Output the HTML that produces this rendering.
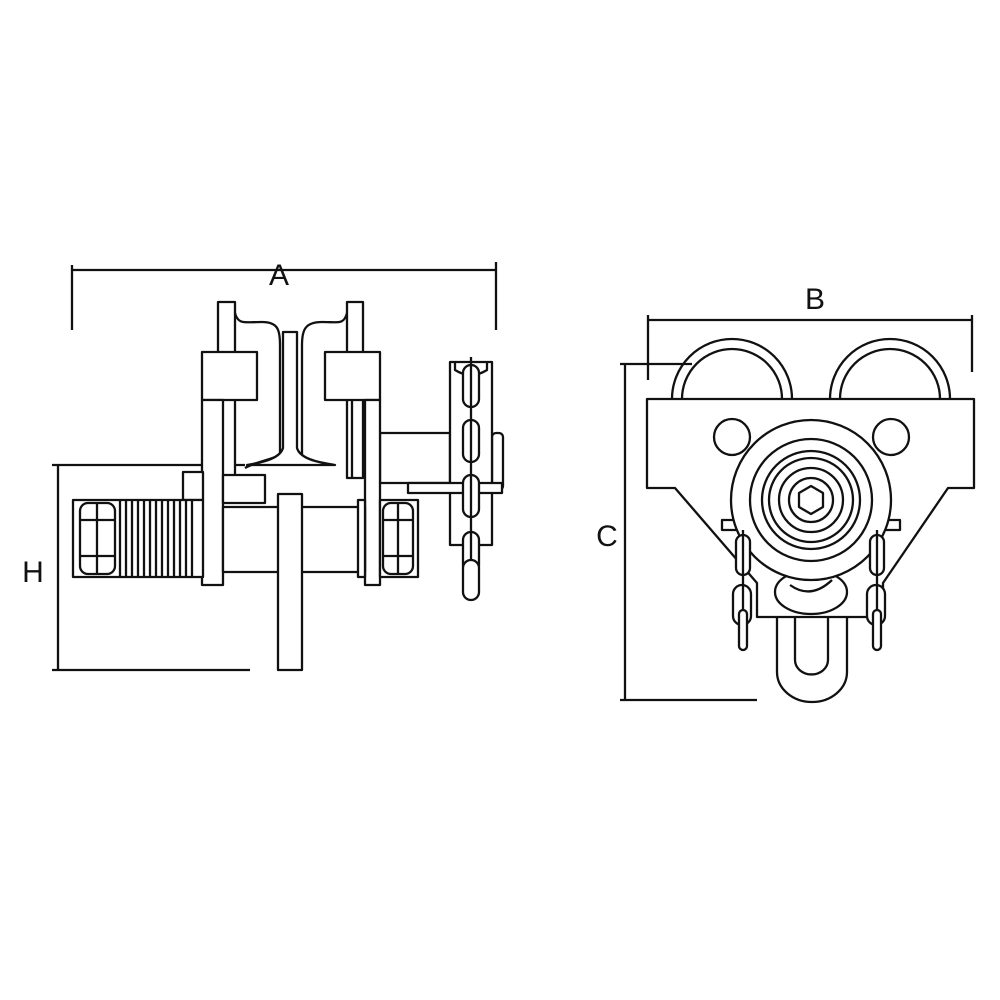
<!DOCTYPE html>
<html><head><meta charset="utf-8"><style>
html,body{margin:0;padding:0;background:#fff;}
svg{display:block}
text{font-family:"Liberation Sans",sans-serif;fill:#111}
</style></head><body>
<svg width="1000" height="1000" viewBox="0 0 1000 1000" xmlns="http://www.w3.org/2000/svg">
<g fill="none" stroke="#111" stroke-width="2.3" stroke-linejoin="round">
<line x1="72" y1="270" x2="496" y2="270"/>
<line x1="72" y1="265" x2="72" y2="330"/>
<line x1="496" y1="262" x2="496" y2="330"/>
<line x1="52" y1="465" x2="245" y2="465"/>
<line x1="52" y1="670" x2="250" y2="670"/>
<line x1="58" y1="465" x2="58" y2="670"/>
<rect x="218" y="302" width="17" height="176" fill="#fff"/>
<rect x="347" y="302" width="16" height="176" fill="#fff"/>
<path d="M235 313 C238 325 245 322 262 322 C278 322 280 330 280 345 L280 455 C270 460 255 462 245 468"/>
<path d="M347 313 C344 325 338 322 322 322 C305 322 302 330 302 345 L302 455"/>
<path d="M283 332 L297 332 L297 448 C300 458 315 462 335 465 L247 465 C265 462 280 458 283 448 Z" fill="#fff"/>
<rect x="202" y="352" width="55" height="48" fill="#fff"/>
<rect x="325" y="352" width="55" height="48" fill="#fff"/>
<line x1="215" y1="400" x2="215" y2="478"/>
<line x1="352" y1="400" x2="352" y2="478"/>
<rect x="380" y="433" width="70" height="50" fill="#fff"/>
<rect x="492" y="433" width="11" height="57" rx="4" fill="#fff"/>
<rect x="450" y="362" width="42" height="183" fill="#fff"/>
<path d="M455 362 L455 370 Q471 380 487 370 L487 362"/>
<rect x="408" y="483" width="94" height="10" fill="#fff"/>
<rect x="202" y="400" width="21" height="185" fill="#fff"/>
<rect x="365" y="400" width="15" height="185" fill="#fff"/>
<rect x="183" y="472" width="20" height="28" fill="#fff"/>
<rect x="223" y="475" width="42" height="28" fill="#fff"/>
<rect x="223" y="507" width="142" height="65" fill="#fff"/>
<rect x="358" y="500" width="7" height="77" fill="#fff"/>
<rect x="73" y="500" width="130" height="77" fill="#fff"/>
<rect x="80" y="503" width="35" height="71" rx="8"/>
<line x1="80" y1="520" x2="115" y2="520"/><line x1="80" y1="556" x2="115" y2="556"/>
<line x1="97" y1="503" x2="97" y2="574"/>
<g>
<line x1="120" y1="500" x2="120" y2="577"/><line x1="126" y1="500" x2="126" y2="577"/>
<line x1="132" y1="500" x2="132" y2="577"/><line x1="138" y1="500" x2="138" y2="577"/>
<line x1="144" y1="500" x2="144" y2="577"/><line x1="150" y1="500" x2="150" y2="577"/>
<line x1="156" y1="500" x2="156" y2="577"/><line x1="162" y1="500" x2="162" y2="577"/>
<line x1="168" y1="500" x2="168" y2="577"/><line x1="174" y1="500" x2="174" y2="577"/>
<line x1="180" y1="500" x2="180" y2="577"/><line x1="186" y1="500" x2="186" y2="577"/>
<line x1="192" y1="500" x2="192" y2="577"/>
</g>
<rect x="380" y="500" width="38" height="77" fill="#fff"/>
<rect x="383" y="503" width="30" height="71" rx="8"/>
<line x1="383" y1="520" x2="413" y2="520"/><line x1="383" y1="556" x2="413" y2="556"/>
<line x1="398" y1="503" x2="398" y2="574"/>
<rect x="278" y="494" width="24" height="176" fill="#fff"/>
<rect x="463" y="365" width="16" height="42" rx="8" fill="#fff"/>
<rect x="463" y="420" width="16" height="42" rx="8" fill="#fff"/>
<rect x="463" y="475" width="16" height="42" rx="8" fill="#fff"/>
<rect x="463" y="532" width="16" height="42" rx="8" fill="#fff"/>
<line x1="471" y1="357" x2="471" y2="600"/>
<rect x="463" y="560" width="16" height="40" rx="8" fill="#fff"/>
<line x1="648" y1="320" x2="972" y2="320"/>
<line x1="648" y1="315" x2="648" y2="380"/>
<line x1="972" y1="315" x2="972" y2="372"/>
<line x1="620" y1="364" x2="692" y2="364"/>
<line x1="620" y1="700" x2="757" y2="700"/>
<line x1="625" y1="364" x2="625" y2="700"/>
<path d="M672 399 A60 60 0 0 1 792 399"/>
<path d="M682 399 A50 50 0 0 1 782 399"/>
<path d="M830 399 A60 60 0 0 1 950 399"/>
<path d="M840 399 A50 50 0 0 1 940 399"/>
<path d="M777 617 L777 672 A35 30 0 0 0 847 672 L847 617" fill="#fff"/>
<path d="M795 617 L795 660 A16 14 0 0 0 828 660 L828 617"/>
<path d="M647 399 L974 399 L974 488 L948 488 L883 583 L883 617 L757 617 L757 583 L675 488 L647 488 Z" fill="#fff"/>
<circle cx="732" cy="437" r="18"/>
<circle cx="891" cy="437" r="18"/>
<rect x="722" y="520" width="178" height="10" fill="#fff"/>
<ellipse cx="811" cy="592" rx="36" ry="22" fill="#fff"/>
<path d="M790 585 Q811 600 832 580"/>
<circle cx="811" cy="500" r="80" fill="#fff"/>
<circle cx="811" cy="500" r="61"/>
<circle cx="811" cy="500" r="49"/>
<circle cx="811" cy="500" r="42"/>
<circle cx="811" cy="500" r="32"/>
<circle cx="811" cy="500" r="22"/>
<polygon points="811,486 823,493 823,507 811,514 799,507 799,493"/>
<rect x="736" y="535" width="14" height="40" rx="7" fill="#fff"/>
<rect x="733" y="585" width="18" height="40" rx="9" fill="#fff"/>
<line x1="743" y1="530" x2="743" y2="650"/>
<rect x="739" y="610" width="8" height="40" rx="4" fill="#fff"/>
<rect x="870" y="535" width="14" height="40" rx="7" fill="#fff"/>
<rect x="867" y="585" width="18" height="40" rx="9" fill="#fff"/>
<line x1="877" y1="530" x2="877" y2="650"/>
<rect x="873" y="610" width="8" height="40" rx="4" fill="#fff"/>
</g>
<text x="279" y="285" font-size="30" text-anchor="middle">A</text>
<text x="33" y="582" font-size="30" text-anchor="middle">H</text>
<text x="815" y="309" font-size="30" text-anchor="middle">B</text>
<text x="607" y="546" font-size="30" text-anchor="middle">C</text>
</svg>
</body></html>
